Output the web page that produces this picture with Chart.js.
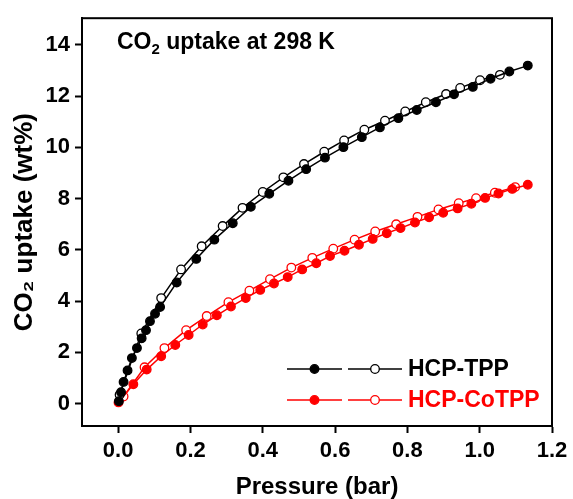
<!DOCTYPE html>
<html>
<head>
<meta charset="utf-8">
<script src="https://cdn.jsdelivr.net/npm/chart.js@4"></script>
<style>
html,body{margin:0;padding:0;background:#fff;}
#wrap{width:573px;height:499px;position:relative;}
</style>
</head>
<body>
<div id="wrap"><canvas id="c" width="573" height="499"></canvas></div>
<script>
// ---- data ----
const seriesNames = ["HCP-TPP", "HCP-CoTPP"];
const xTickValues = [0.0, 0.2, 0.4, 0.6, 0.8, 1.0, 1.2];
const yTickValues = [0, 2, 4, 6, 8, 10, 12, 14];

const tppAdsP = [0.002, 0.008, 0.015, 0.026, 0.038, 0.052, 0.065, 0.077, 0.088, 0.102, 0.116, 0.162, 0.216, 0.266, 0.317, 0.367, 0.418, 0.471, 0.520, 0.572, 0.623, 0.674, 0.724, 0.775, 0.826, 0.879, 0.929, 0.981, 1.030, 1.082, 1.133];
const tppAdsV = [0.10, 0.45, 0.85, 1.30, 1.78, 2.17, 2.55, 2.87, 3.22, 3.51, 3.77, 4.73, 5.65, 6.40, 7.04, 7.68, 8.19, 8.70, 9.15, 9.60, 10.01, 10.40, 10.78, 11.14, 11.46, 11.76, 12.07, 12.36, 12.68, 12.96, 13.19];
const tppDesP = [0.004, 0.064, 0.119, 0.174, 0.231, 0.289, 0.344, 0.400, 0.457, 0.514, 0.570, 0.625, 0.681, 0.738, 0.794, 0.851, 0.907, 0.946, 1.001, 1.056];
const tppDesV = [0.35, 2.74, 4.12, 5.24, 6.14, 6.93, 7.64, 8.26, 8.83, 9.35, 9.83, 10.27, 10.69, 11.04, 11.40, 11.76, 12.08, 12.32, 12.62, 12.83];
const cotppAdsP = [0.001, 0.042, 0.079, 0.119, 0.158, 0.195, 0.234, 0.273, 0.312, 0.353, 0.393, 0.431, 0.469, 0.509, 0.548, 0.586, 0.626, 0.666, 0.704, 0.743, 0.781, 0.821, 0.860, 0.899, 0.939, 0.977, 1.015, 1.052, 1.090, 1.133];
const cotppAdsV = [0.05, 0.76, 1.33, 1.85, 2.29, 2.68, 3.09, 3.45, 3.79, 4.12, 4.44, 4.69, 4.94, 5.24, 5.48, 5.76, 5.97, 6.20, 6.43, 6.65, 6.85, 7.07, 7.27, 7.45, 7.62, 7.80, 8.03, 8.20, 8.38, 8.54];
const cotppDesP = [0.015, 0.073, 0.128, 0.188, 0.245, 0.305, 0.363, 0.420, 0.479, 0.537, 0.595, 0.654, 0.711, 0.769, 0.828, 0.886, 0.942, 0.990, 1.042, 1.098];
const cotppDesV = [0.28, 1.42, 2.17, 2.87, 3.42, 3.96, 4.41, 4.86, 5.31, 5.69, 6.05, 6.40, 6.72, 7.00, 7.29, 7.58, 7.82, 8.02, 8.23, 8.45];

function pts(px, py){ return px.map((p,i)=>({x:p, y:py[i]})); }

const FONT = "'Liberation Sans', Arial, sans-serif";
const BLACK = '#000000';
const RED = '#ff0000';

function ds(label, data, color, filled){
  return {
    label, data, showLine:true,
    borderColor: color, backgroundColor: filled ? color : '#ffffff',
    borderWidth: 1.5, pointRadius: 4.3, pointBorderWidth: 1.3,
    pointBackgroundColor: filled ? color : '#ffffff', pointBorderColor: color,
    tension: 0
  };
}

const boxPlugin = {
  id:'box',
  afterDraw(chart){
    const {ctx, chartArea:a} = chart;
    ctx.save();
    ctx.strokeStyle = '#000'; ctx.lineWidth = 2;
    ctx.strokeRect(a.left, a.top, a.right-a.left, a.bottom-a.top);
    // in-plot title with subscript
    ctx.fillStyle = '#000';
    ctx.textBaseline = 'alphabetic';
    let x = a.left + 35, y = a.top + 31;
    ctx.font = "bold 23px " + FONT;
    ctx.fillText("CO", x, y); x += ctx.measureText("CO").width;
    ctx.font = "bold 15px " + FONT;
    ctx.fillText("2", x, y + 5); x += ctx.measureText("2").width;
    ctx.font = "bold 23px " + FONT;
    ctx.fillText(" uptake at 298 K", x, y);
    // legend
    const rows = [
      {name: seriesNames[0], color: BLACK, y: a.bottom - 57},
      {name: seriesNames[1], color: RED, y: a.bottom - 26}
    ];
    rows.forEach(r=>{
      const segs = [[a.right-265, a.right-210, true],[a.right-204, a.right-150, false]];
      segs.forEach(s=>{
        ctx.strokeStyle = r.color; ctx.lineWidth = 1.5;
        ctx.beginPath(); ctx.moveTo(s[0], r.y); ctx.lineTo(s[1], r.y); ctx.stroke();
        ctx.beginPath(); ctx.arc((s[0]+s[1])/2, r.y, 4.3, 0, Math.PI*2);
        ctx.fillStyle = s[2] ? r.color : '#fff'; ctx.fill();
        ctx.lineWidth = 1.3; ctx.stroke();
      });
      ctx.fillStyle = r.color;
      ctx.font = "bold 23px " + FONT;
      ctx.textBaseline = 'middle';
      ctx.fillText(r.name, a.right-144, r.y + 1);
    });
    ctx.restore();
  }
};

new Chart(document.getElementById('c'), {
  type: 'scatter',
  data: {
    datasets: [
      ds(seriesNames[0] + ' ads', pts(tppAdsP, tppAdsV), BLACK, true),
      ds(seriesNames[0] + ' des', pts(tppDesP, tppDesV), BLACK, false),
      ds(seriesNames[1] + ' ads', pts(cotppAdsP, cotppAdsV), RED, true),
      ds(seriesNames[1] + ' des', pts(cotppDesP, cotppDesV), RED, false)
    ]
  },
  options: {
    responsive: false, animation: false,
    layout: { padding: { top: 12, right: 21, left: 0, bottom: 0 } },
    plugins: { legend: {display:false}, tooltip: {enabled:false} },
    scales: {
      x: {
        type: 'linear', min: -0.1, max: 1.2,
        afterBuildTicks(s){ s.ticks = xTickValues.map(v=>({value:v})); },
        afterFit(s){ s.height = 73; },
        grid: { drawOnChartArea: false, drawTicks: true, tickLength: 7, tickWidth: 2, tickColor: '#000' },
        border: { display: true, color: '#000', width: 2 },
        ticks: { color: '#000', padding: 5, maxRotation: 0, font: { family: FONT, size: 22, weight: 'bold' },
                 callback: v => Number(v).toFixed(1) },
        title: { display: true, text: 'Pressure (bar)', color: '#000', padding: {top:0, bottom: -3},
                 font: { family: FONT, size: 24, weight: 'bold' } }
      },
      y: {
        type: 'linear', min: -0.87, max: 15.04,
        afterBuildTicks(s){ s.ticks = yTickValues.map(v=>({value:v})); },
        afterFit(s){ s.width = 82; },
        grid: { drawOnChartArea: false, drawTicks: true, tickLength: 7, tickWidth: 2, tickColor: '#000' },
        border: { display: true, color: '#000', width: 2 },
        ticks: { color: '#000', padding: 5, font: { family: FONT, size: 22, weight: 'bold' },
                 callback: v => String(Math.round(v)) },
        title: { display: true, text: 'CO₂ uptake (wt%)', color: '#000', padding: {top: 9, bottom: 0},
                 font: { family: FONT, size: 26, weight: 'bold' } }
      }
    }
  },
  plugins: [boxPlugin]
});
</script>
</body>
</html>
